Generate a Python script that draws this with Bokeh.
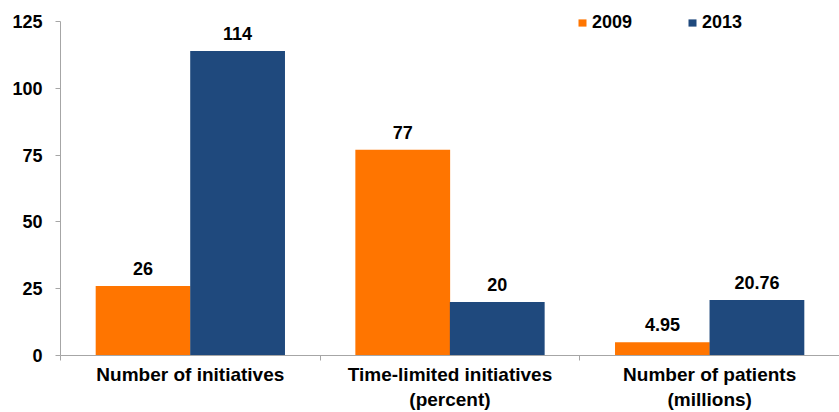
from bokeh.plotting import figure
from bokeh.models import ColumnDataSource, FixedTicker, Legend, LegendItem, LabelSet
from bokeh.core.properties import value
from bokeh.embed import file_html
from bokeh.resources import INLINE

categories = ["Number of initiatives", "Time-limited initiatives\n(percent)", "Number of patients\n(millions)"]
series_names = ["2009", "2013"]
values_2009 = [26, 77, 4.95]
values_2013 = [114, 20, 20.76]
y_ticks = [0, 25, 50, 75, 100, 125]

ORANGE = "#FF7500"
BLUE = "#1F497D"
AXIS_GRAY = "#A6A6A6"
FONT = "Liberation Sans"

bar_w = 0.365
shift = 0.182
centers = [i + 0.5 for i in range(len(categories))]

# a little headroom above 125 so the legend can sit on the top line
p = figure(width=839, height=412, x_range=(0, len(categories)), y_range=(0, 132.5),
           output_backend="svg", toolbar_location=None,
           min_border_left=60, min_border_right=0, min_border_top=1, min_border_bottom=50)
p.outline_line_color = None
p.xgrid.grid_line_color = None
p.ygrid.grid_line_color = None
p.background_fill_color = "white"

src_a = ColumnDataSource(dict(x=[c - shift for c in centers], top=values_2009,
                              label=[f"{v:g}" for v in values_2009]))
src_b = ColumnDataSource(dict(x=[c + shift for c in centers], top=values_2013,
                              label=[f"{v:g}" for v in values_2013]))

r_a = p.vbar(x="x", top="top", width=bar_w, source=src_a, fill_color=ORANGE, line_color=None)
r_b = p.vbar(x="x", top="top", width=bar_w, source=src_b, fill_color=BLUE, line_color=None)

for src in (src_a, src_b):
    p.add_layout(LabelSet(x="x", y="top", text="label", source=src, y_offset=11,
                          text_align="center", text_baseline="alphabetic",
                          text_font=value(FONT), text_font_style="bold", text_font_size="18px",
                          text_color="black"))

# y axis
p.yaxis.ticker = FixedTicker(ticks=y_ticks)
p.yaxis.bounds = (0, 125)
p.yaxis.axis_line_color = AXIS_GRAY
p.yaxis.major_tick_line_color = AXIS_GRAY
p.yaxis.major_tick_out = 5
p.yaxis.major_tick_in = 0
p.yaxis.minor_tick_line_color = None
p.yaxis.major_label_text_font = FONT
p.yaxis.major_label_text_font_style = "bold"
p.yaxis.major_label_text_font_size = "18px"
p.yaxis.major_label_text_color = "black"
p.yaxis.major_label_standoff = 13

# x axis: labels at category centres, ticks at category boundaries
p.xaxis.ticker = FixedTicker(ticks=centers, minor_ticks=list(range(len(categories) + 1)))
p.xaxis.major_label_overrides = {c: lab for c, lab in zip(centers, categories)}
p.xaxis.axis_line_color = AXIS_GRAY
p.xaxis.major_tick_line_color = None
p.xaxis.major_tick_out = 0
p.xaxis.major_tick_in = 0
p.xaxis.minor_tick_line_color = AXIS_GRAY
p.xaxis.minor_tick_out = 5
p.xaxis.minor_tick_in = 0
p.xaxis.major_label_text_font = FONT
p.xaxis.major_label_text_font_style = "bold"
p.xaxis.major_label_text_font_size = "19px"
p.xaxis.major_label_text_color = "black"
p.xaxis.major_label_standoff = 3

legend = Legend(items=[LegendItem(label=series_names[0], renderers=[r_a]),
                       LegendItem(label=series_names[1], renderers=[r_b])],
                orientation="horizontal", location=(517, 322),
                padding=0, margin=0, spacing=55, label_standoff=5,
                glyph_width=10, glyph_height=9,
                label_text_font=FONT, label_text_font_style="bold",
                label_text_font_size="18px", label_text_color="black",
                background_fill_alpha=0, border_line_color=None)
p.add_layout(legend)

open("out.html", "w").write(file_html(p, INLINE))
